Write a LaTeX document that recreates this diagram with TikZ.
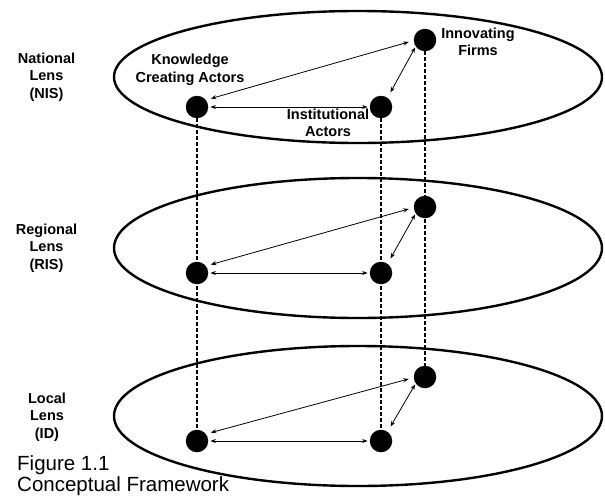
\documentclass[tikz,border=0pt]{standalone}
\usepackage{fontspec}
\setmainfont{Liberation Sans}
\usetikzlibrary{arrows.meta,backgrounds}
\begin{document}
\begin{tikzpicture}[x=1pt,y=-1pt,
  lens/.style={draw, line width=2.4pt},
  actor/.style={circle, fill=black, inner sep=0pt, minimum size=22.5pt},
  link/.style={line width=0.8pt, {Stealth[length=5.5pt,width=4.2pt]}-{Stealth[length=5.5pt,width=4.2pt]}},
  guide/.style={line width=1.2pt, dash pattern=on 3.5pt off 2.5pt},
  lab/.style={font=\fontsize{14.5}{17.5}\selectfont\bfseries, align=center, inner sep=0pt},
  caption/.style={font=\fontsize{20.5}{21}\selectfont, anchor=base west, inner sep=0pt}]
\useasboundingbox (0,0) rectangle (605,498);

% the three lenses
\draw[lens] (358,77)  ellipse [x radius=244pt, y radius=66pt];
\draw[lens] (358,248) ellipse [x radius=244pt, y radius=70pt];
\draw[lens] (358,416) ellipse [x radius=244pt, y radius=70pt];

% actors in each lens
\node[actor] (nisK) at (197,107) {};
\node[actor] (nisI) at (381,107) {};
\node[actor] (nisF) at (425,40)  {};
\node[actor] (risK) at (197,273) {};
\node[actor] (risI) at (381,273) {};
\node[actor] (risF) at (425,207) {};
\node[actor] (idK)  at (197,441) {};
\node[actor] (idI)  at (381,441) {};
\node[actor] (idF)  at (425,377) {};

% vertical guides joining the same actor across lenses
\begin{pgfonlayer}{background}
\draw[guide] (nisK.south) -- (idK.north);
\draw[guide] (nisI.south) -- (idI.north);
\draw[guide] (nisF.south) -- (idF.north);
\end{pgfonlayer}

% interactions inside each lens
\foreach \l in {nis,ris,id}{
  \draw[link, shorten <=2pt, shorten >=2pt] (\l K.east) -- (\l I.west);
  \draw[link, shorten <=5pt, shorten >=5pt] (\l K.38) -- (\l F.183);
  \draw[link, shorten <=6pt, shorten >=1pt] (\l I.55) -- (\l F.215);
}

% lens names
\node[lab] (nisName) at (46.5,77)  {National\\Lens\\(NIS)};
\node[lab] (risName) at (46.5,248) {Regional\\Lens\\(RIS)};
\node[lab] (idName)  at (47,417)   {Local\\Lens\\(ID)};

% actor names
\node[lab] (knowName) at (190,70)  {Knowledge\\Creating Actors};
\node[lab] (firmName) at (478,42)  {Innovating\\Firms};
\node[lab] (instName) at (328,123) {Institutional\\Actors};

% caption
\node[caption] (figNo)    at (17,470.7) {Figure 1.1};
\node[caption] (figTitle) at (17,491.7) {Conceptual Framework};
\end{tikzpicture}
\end{document}
